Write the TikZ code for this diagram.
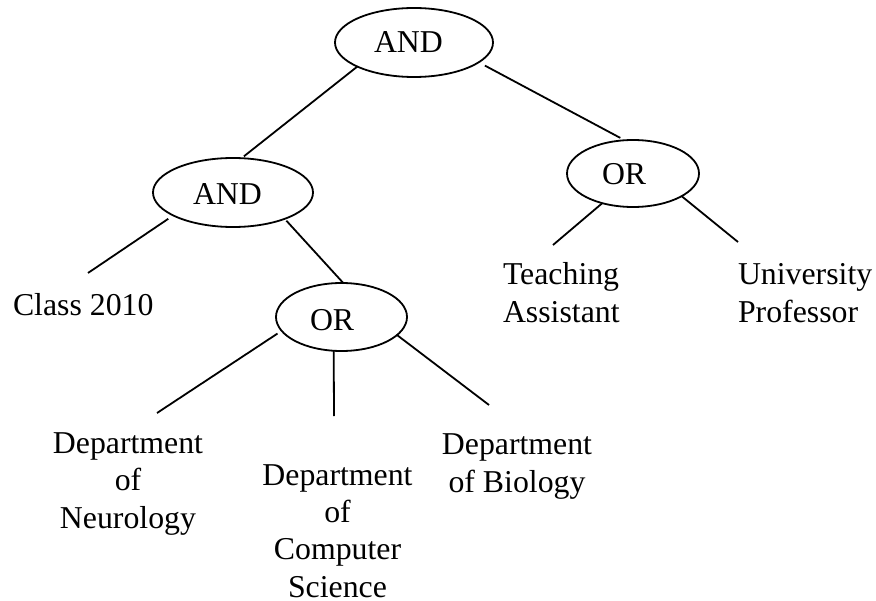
\documentclass[tikz,border=0pt]{standalone}
\usepackage{fontspec}
\setmainfont{Liberation Serif}
\usetikzlibrary{shapes.geometric}
\begin{document}
\begin{tikzpicture}[x=1bp,y=-1bp,
  every node/.style={font=\fontsize{31.8bp}{37.3bp}\selectfont},
  gate/.style={draw, ellipse, line width=1.8bp, inner sep=0pt, outer sep=0pt},
  word/.style={inner sep=0pt, outer sep=0pt},
  edge/.style={line width=1.8bp}]
\useasboundingbox (0,0) rectangle (876,601);

% operator ellipses
\node[gate, minimum width=158bp, minimum height=69bp] (a1) at (414,42.5) {};
\node[gate, minimum width=160bp, minimum height=69bp] (a2) at (233,192.5) {};
\node[gate, minimum width=132bp, minimum height=67bp] (o1) at (633,173.5) {};
\node[gate, minimum width=131bp, minimum height=68bp] (o2) at (341.5,317) {};

% operator names
\node[word, anchor=base west] (a1t) at (374,53) {AND};
\node[word, anchor=base west] (a2t) at (193,205) {AND};
\node[word, anchor=base west] (o1t) at (602,185) {OR};
\node[word, anchor=base west] (o2t) at (310,330) {OR};

% leaves (multi-line nodes are placed by the baseline of their last line)
\node[word, anchor=base west] (cls) at (13,315) {Class 2010};
\node[word, anchor=base west, align=left] (ta) at (503,322) {Teaching\\Assistant};
\node[word, anchor=base west, align=left] (up) at (738,322) {University\\Professor};
\node[word, anchor=base, align=center] (neu) at (128,528) {Department\\of\\Neurology};
\node[word, anchor=base, align=center] (cs) at (337.5,597) {Department\\of\\Computer\\Science};
\node[word, anchor=base, align=center] (bio) at (517,492) {Department\\of Biology};

% free ends of the leaf connectors
\coordinate (c1) at (88,273);
\coordinate (t1) at (553,245);
\coordinate (u1) at (738,242);
\coordinate (n1) at (157,413);
\coordinate (m1) at (334,416);
\coordinate (b1) at (489,405);

% connectors
\draw[edge, shorten >=3bp] (a1.203.3) -- (a2.76.5);
\draw[edge, shorten <=7bp, shorten >=5bp] (a1.-17.6) -- (o1.104.6);
\draw[edge, shorten <=6bp] (a2.201.4) -- (c1);
\draw[edge, shorten <=2.5bp] (a2.-27) -- (o2.87.4);
\draw[edge] (o1.224.5) -- (t1);
\draw[edge] (o1.-25.6) -- (u1);
\draw[edge, shorten <=5bp] (o2.193.1) -- (n1);
\draw[edge] (o2.257.5) -- (m1);
\draw[edge] (o2.-18) -- (b1);
\end{tikzpicture}
\end{document}
